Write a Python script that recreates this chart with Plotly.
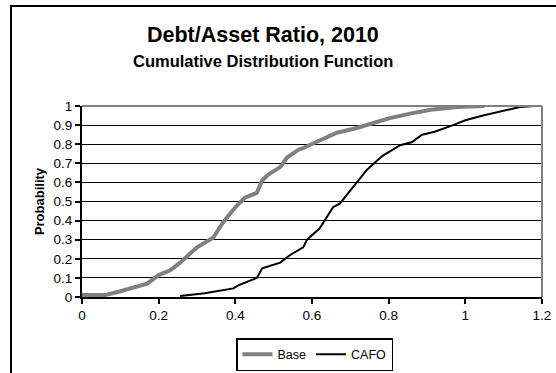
import plotly.graph_objects as go

# Empirical CDF of the debt/asset ratio, 2010
base_x = [0, 0.06, 0.10, 0.13, 0.17, 0.20, 0.23, 0.256, 0.29, 0.30, 0.342, 0.368,
          0.40, 0.425, 0.456, 0.47, 0.485, 0.517, 0.535, 0.564, 0.577, 0.62, 0.665,
          0.717, 0.76, 0.80, 0.856, 0.91, 0.98, 1.05]
base_y = [0.01, 0.01, 0.03, 0.045, 0.07, 0.115, 0.14, 0.18, 0.245, 0.26, 0.31, 0.39,
          0.47, 0.52, 0.545, 0.61, 0.64, 0.68, 0.73, 0.77, 0.78, 0.82, 0.86,
          0.885, 0.91, 0.935, 0.96, 0.98, 0.995, 1.0]

cafo_x = [0.256, 0.32, 0.395, 0.41, 0.456, 0.47, 0.517, 0.543, 0.577, 0.587, 0.62,
          0.64, 0.655, 0.673, 0.707, 0.743, 0.77, 0.785, 0.83, 0.86, 0.887, 0.92,
          0.968, 1.0, 1.046, 1.117, 1.143, 1.18]
cafo_y = [0.005, 0.02, 0.045, 0.063, 0.10, 0.15, 0.18, 0.22, 0.26, 0.30, 0.36,
          0.42, 0.47, 0.49, 0.575, 0.665, 0.715, 0.74, 0.795, 0.81, 0.85, 0.865,
          0.90, 0.925, 0.95, 0.98, 0.995, 1.0]

x_ticks = [0, 0.2, 0.4, 0.6, 0.8, 1.0, 1.2]
x_labels = ["0", "0.2", "0.4", "0.6", "0.8", "1", "1.2"]
y_ticks = [0, 0.1, 0.2, 0.3, 0.4, 0.5, 0.6, 0.7, 0.8, 0.9, 1.0]
y_labels = ["0", "0.1", "0.2", "0.3", "0.4", "0.5", "0.6", "0.7", "0.8", "0.9", "1"]

FONT = "Liberation Sans, Arial, sans-serif"
W, H = 556, 373
L, R, T, B = 82, 14, 106, 76
pw, ph = W - L - R, H - T - B


def px(xp):
    return (xp - L) / pw


def py(yp):
    return (H - B - yp) / ph


fig = go.Figure()
fig.add_trace(go.Scatter(x=base_x, y=base_y, mode="lines", name="Base",
                         line=dict(color="#808080", width=4)))
fig.add_trace(go.Scatter(x=cafo_x, y=cafo_y, mode="lines", name="CAFO",
                         line=dict(color="#000000", width=2)))

fig.update_layout(
    width=W, height=H,
    margin=dict(l=L, r=R, t=T, b=B, autoexpand=False),
    paper_bgcolor="white", plot_bgcolor="white",
    font=dict(family=FONT, size=13, color="black"),
    xaxis=dict(range=[0, 1.2], tickvals=x_ticks, ticktext=x_labels,
               showgrid=False, zeroline=False, showline=True,
               linecolor="black", linewidth=2, ticks="outside",
               ticklen=5, tickwidth=1.5, tickcolor="black",
               tickfont=dict(size=13.5), automargin=False),
    yaxis=dict(range=[0, 1], tickvals=y_ticks, ticktext=y_labels,
               showgrid=True, gridcolor="black", gridwidth=1,
               zeroline=False, showline=True, linecolor="black",
               linewidth=2, ticks="outside", ticklen=5, tickwidth=1.5,
               tickcolor="black", tickfont=dict(size=13.5), automargin=False,
               title=dict(text="<b>Probability</b>", font=dict(size=13),
                          standoff=6)),
    showlegend=True,
    legend=dict(orientation="h", x=px(236), y=py(338), xanchor="left",
                yanchor="top", bordercolor="black", borderwidth=1.5,
                bgcolor="white", font=dict(size=12.5),
                itemwidth=30, tracegroupgap=0),
)

# Title and subtitle
fig.add_annotation(x=px(263), y=py(35), xref="paper", yref="paper",
                   xanchor="center", yanchor="middle",
                   text="<b>Debt/Asset Ratio, 2010</b>", showarrow=False,
                   font=dict(size=21.5, family=FONT))
fig.add_annotation(x=px(263), y=py(61), xref="paper", yref="paper",
                   xanchor="center", yanchor="middle",
                   text="<b>Cumulative Distribution Function</b>",
                   showarrow=False, font=dict(size=16.5, family=FONT))

# Grey plot-area border on top and right
fig.add_shape(type="line", xref="paper", yref="paper", x0=0, x1=1, y0=1, y1=1,
              line=dict(color="#808080", width=2))
fig.add_shape(type="line", xref="paper", yref="paper", x0=1, x1=1, y0=0, y1=1,
              line=dict(color="#808080", width=2))

# Outer chart border
fig.add_shape(type="rect", xref="paper", yref="paper",
              x0=px(11), x1=px(560), y0=py(6), y1=py(380),
              line=dict(color="black", width=2), layer="below")

fig.write_html("out.html")
